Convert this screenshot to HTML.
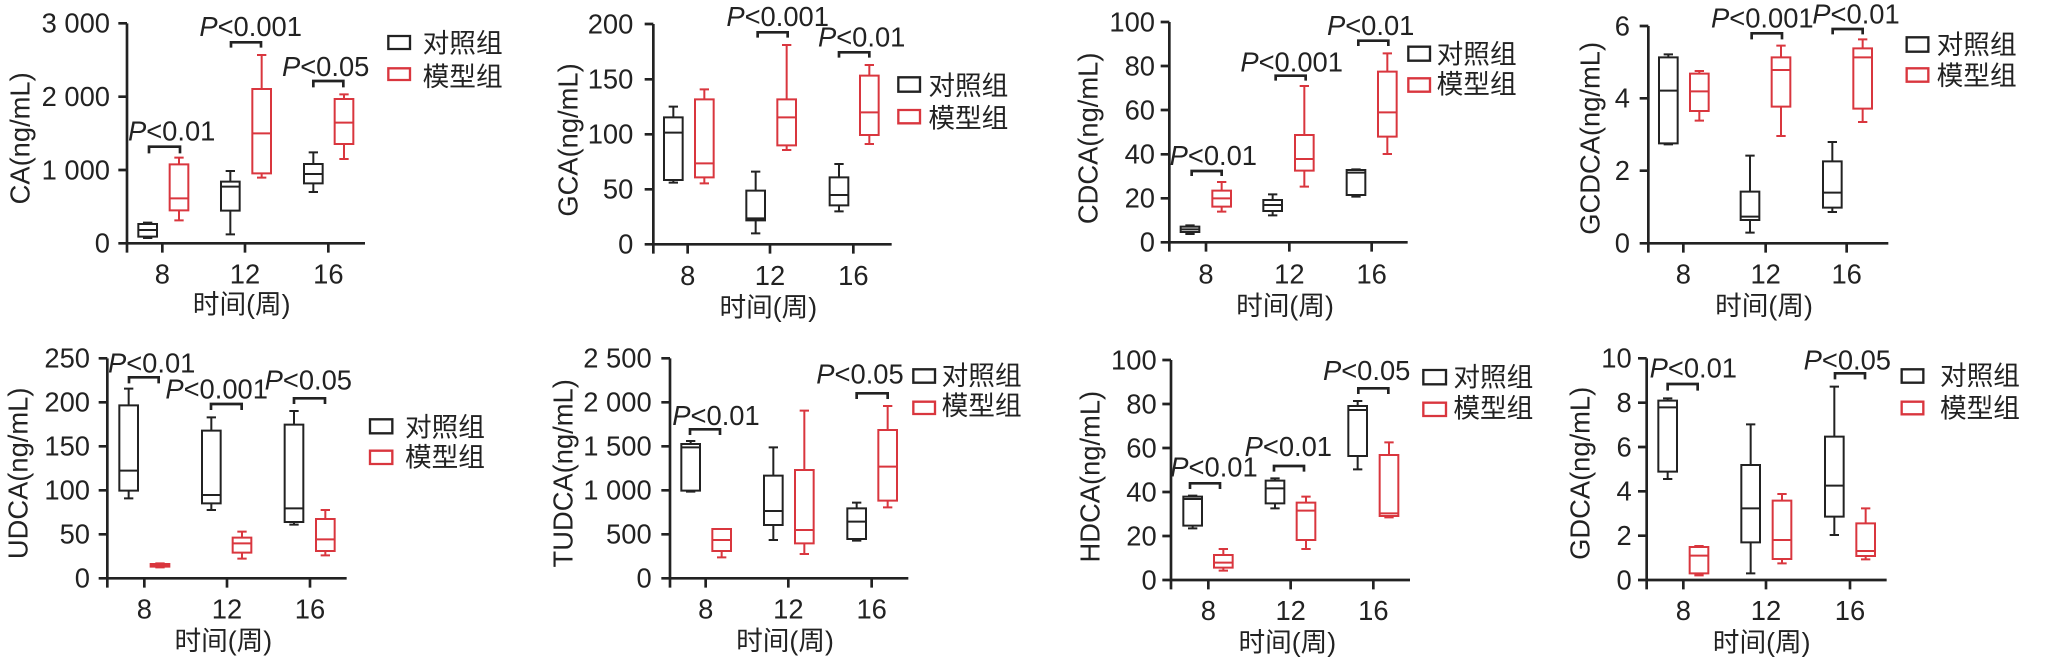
<!DOCTYPE html>
<html><head><meta charset="utf-8"><style>
html,body{margin:0;padding:0;background:#fff;}
svg{display:block}
text{font-family:"Liberation Sans","Noto Sans CJK SC",sans-serif;fill:#222;font-size:82px}
.e{text-anchor:end}.m{text-anchor:middle}
.cj{font-family:"Liberation Sans","Noto Sans CJK SC",sans-serif;font-size:80px}
</style></head><body>
<svg id="s" width="2053" height="659" viewBox="0 0 2053 659" xmlns="http://www.w3.org/2000/svg">
<!-- Panel 1 -->
<g id="p1" transform="translate(0,0) scale(0.33333)">
<text class="e" x="330" y="98">3 000</text><text class="e" x="330" y="318">2 000</text><text class="e" x="330" y="538">1 000</text><text class="e" x="330" y="758">0</text>
<text class="m" x="487" y="850">8</text><text class="m" x="735" y="850">12</text><text class="m" x="985" y="850">16</text>
<text class="m cj" x="725" y="940">时间(周)</text>
<text class="m" transform="translate(88,415) rotate(-90)">CA(ng/mL)</text>
<text class="m" x="515" y="422"><tspan font-style="italic">P</tspan>&lt;0.01</text>
<text class="m" x="752" y="108"><tspan font-style="italic">P</tspan>&lt;0.001</text>
<text class="m" x="977" y="228"><tspan font-style="italic">P</tspan>&lt;0.05</text>
<text class="cj" x="1268" y="158">对照组</text><text class="cj" x="1268" y="258">模型组</text>
</g>
<!-- Panel 2 -->
<g id="p2" transform="translate(520,0) scale(0.33333)">
<text class="e" x="340" y="100">200</text><text class="e" x="340" y="266">150</text><text class="e" x="340" y="431">100</text><text class="e" x="340" y="596">50</text><text class="e" x="340" y="761">0</text>
<text class="m" x="503" y="855">8</text><text class="m" x="750" y="855">12</text><text class="m" x="1000" y="855">16</text>
<text class="m cj" x="745" y="950">时间(周)</text>
<text class="m" transform="translate(172,420) rotate(-90)">GCA(ng/mL)</text>
<text class="m" x="773" y="78"><tspan font-style="italic">P</tspan>&lt;0.001</text>
<text class="m" x="1025" y="140"><tspan font-style="italic">P</tspan>&lt;0.01</text>
<text class="cj" x="1225" y="285">对照组</text><text class="cj" x="1225" y="383">模型组</text>
</g>
<!-- Panel 3 -->
<g id="p3" transform="translate(1040,0) scale(0.33333)">
<text class="e" x="345" y="94">100</text><text class="e" x="345" y="226">80</text><text class="e" x="345" y="358">60</text><text class="e" x="345" y="490">40</text><text class="e" x="345" y="622">20</text><text class="e" x="345" y="755">0</text>
<text class="m" x="498" y="850">8</text><text class="m" x="748" y="850">12</text><text class="m" x="995" y="850">16</text>
<text class="m cj" x="735" y="945">时间(周)</text>
<text class="m" transform="translate(172,415) rotate(-90)">CDCA(ng/mL)</text>
<text class="m" x="520" y="495"><tspan font-style="italic">P</tspan>&lt;0.01</text>
<text class="m" x="755" y="215"><tspan font-style="italic">P</tspan>&lt;0.001</text>
<text class="m" x="992" y="105"><tspan font-style="italic">P</tspan>&lt;0.01</text>
<text class="cj" x="1190" y="190">对照组</text><text class="cj" x="1190" y="280">模型组</text>
</g>
<!-- Panel 4 -->
<g id="p4" transform="translate(1540,0) scale(0.33333)">
<text class="e" x="270" y="106">6</text><text class="e" x="270" y="323">4</text><text class="e" x="270" y="540">2</text><text class="e" x="270" y="758">0</text>
<text class="m" x="430" y="850">8</text><text class="m" x="677" y="850">12</text><text class="m" x="920" y="850">16</text>
<text class="m cj" x="672" y="945">时间(周)</text>
<text class="m" transform="translate(178,415) rotate(-90)">GCDCA(ng/mL)</text>
<text class="m" x="667" y="83"><tspan font-style="italic">P</tspan>&lt;0.001</text>
<text class="m" x="948" y="70"><tspan font-style="italic">P</tspan>&lt;0.01</text>
<text class="cj" x="1190" y="162">对照组</text><text class="cj" x="1190" y="255">模型组</text>
</g>
<!-- Panel 5 -->
<g id="p5" transform="translate(0,330) scale(0.33333)">
<text class="e" x="270" y="113">250</text><text class="e" x="270" y="245">200</text><text class="e" x="270" y="377">150</text><text class="e" x="270" y="509">100</text><text class="e" x="270" y="641">50</text><text class="e" x="270" y="773">0</text>
<text class="m" x="433" y="865">8</text><text class="m" x="681" y="865">12</text><text class="m" x="930" y="865">16</text>
<text class="m cj" x="670" y="960">时间(周)</text>
<text class="m" transform="translate(82,430) rotate(-90)">UDCA(ng/mL)</text>
<text class="m" x="455" y="128"><tspan font-style="italic">P</tspan>&lt;0.01</text>
<text class="m" x="650" y="205"><tspan font-style="italic">P</tspan>&lt;0.001</text>
<text class="m" x="925" y="178"><tspan font-style="italic">P</tspan>&lt;0.05</text>
<text class="cj" x="1215" y="320">对照组</text><text class="cj" x="1215" y="410">模型组</text>
</g>
<!-- Panel 6 -->
<g id="p6" transform="translate(520,330) scale(0.33333)">
<text class="e" x="395" y="113">2 500</text><text class="e" x="395" y="245">2 000</text><text class="e" x="395" y="377">1 500</text><text class="e" x="395" y="509">1 000</text><text class="e" x="395" y="641">500</text><text class="e" x="395" y="773">0</text>
<text class="m" x="557" y="865">8</text><text class="m" x="805" y="865">12</text><text class="m" x="1055" y="865">16</text>
<text class="m cj" x="795" y="960">时间(周)</text>
<text class="m" transform="translate(158,430) rotate(-90)">TUDCA(ng/mL)</text>
<text class="m" x="588" y="285"><tspan font-style="italic">P</tspan>&lt;0.01</text>
<text class="m" x="1020" y="160"><tspan font-style="italic">P</tspan>&lt;0.05</text>
<text class="cj" x="1265" y="165">对照组</text><text class="cj" x="1265" y="255">模型组</text>
</g>
<!-- Panel 7 -->
<g id="p7" transform="translate(1040,330) scale(0.33333)">
<text class="e" x="350" y="118">100</text><text class="e" x="350" y="250">80</text><text class="e" x="350" y="382">60</text><text class="e" x="350" y="514">40</text><text class="e" x="350" y="646">20</text><text class="e" x="350" y="778">0</text>
<text class="m" x="505" y="870">8</text><text class="m" x="752" y="870">12</text><text class="m" x="1000" y="870">16</text>
<text class="m cj" x="742" y="965">时间(周)</text>
<text class="m" transform="translate(178,440) rotate(-90)">HDCA(ng/mL)</text>
<text class="m" x="522" y="440"><tspan font-style="italic">P</tspan>&lt;0.01</text>
<text class="m" x="745" y="378"><tspan font-style="italic">P</tspan>&lt;0.01</text>
<text class="m" x="980" y="150"><tspan font-style="italic">P</tspan>&lt;0.05</text>
<text class="cj" x="1240" y="170">对照组</text><text class="cj" x="1240" y="262">模型组</text>
</g>
<!-- Panel 8 -->
<g id="p8" transform="translate(1540,330) scale(0.33333)">
<text class="e" x="275" y="113">10</text><text class="e" x="275" y="246">8</text><text class="e" x="275" y="379">6</text><text class="e" x="275" y="512">4</text><text class="e" x="275" y="645">2</text><text class="e" x="275" y="778">0</text>
<text class="m" x="430" y="870">8</text><text class="m" x="678" y="870">12</text><text class="m" x="930" y="870">16</text>
<text class="m cj" x="665" y="965">时间(周)</text>
<text class="m" transform="translate(148,430) rotate(-90)">GDCA(ng/mL)</text>
<text class="m" x="460" y="142"><tspan font-style="italic">P</tspan>&lt;0.01</text>
<text class="m" x="922" y="118"><tspan font-style="italic">P</tspan>&lt;0.05</text>
<text class="cj" x="1200" y="165">对照组</text><text class="cj" x="1200" y="262">模型组</text>
</g>
</svg>
<script>
var K="#222",R="#d9363e",NS="http://www.w3.org/2000/svg";
function P(g,d,c,w){var p=document.createElementNS(NS,"path");p.setAttribute("d",d);p.setAttribute("stroke",c);p.setAttribute("stroke-width",w);p.setAttribute("fill","none");g.appendChild(p);}
var D=[
{id:"p1",ax:381,yt:70,y0:730,xe:1095,yts:[70,290,510,730],xt:[487,735,985],
 b:[[443,668,672,690,710,714,0],[537,473,493,595,631,661,1],[691,513,545,560,632,703,0],[785,165,267,400,520,533,1],[940,457,492,522,550,576,0],[1032,283,297,368,432,477,1]],
 s:[[447,540,440,460],[693,783,127,143],[940,1030,243,262]],lg:[1165,1230,108,147,205,240]},
{id:"p2",ax:400,yt:72,y0:733,xe:1115,yts:[72,238,403,568,733],xt:[503,750,1000],
 b:[[460,320,352,398,540,548,0],[553,268,298,490,532,550,1],[707,515,572,655,661,700,0],[800,135,298,352,436,450,1],[957,492,532,585,616,634,0],[1048,195,227,337,405,432,1]],
 s:[[713,803,97,113],[957,1048,157,173]],lg:[1135,1200,232,275,330,370]},
{id:"p3",ax:388,yt:66,y0:727,xe:1103,yts:[66,198,330,463,595,727],xt:[498,748,995],
 b:[[450,676,680,688,696,702,0],[545,546,572,595,620,635,1],[698,583,600,615,633,646,0],[793,258,405,477,512,560,1],[948,508,510,518,585,590,0],[1042,160,215,337,410,462,1]],
 s:[[455,545,513,528],[707,797,227,242],[955,1045,122,138]],lg:[1105,1170,140,182,235,275]},
{id:"p4",ax:325,yt:78,y0:730,xe:1045,yts:[78,295,512,730],xt:[430,677,920],
 b:[[385,163,172,272,430,433,0],[478,213,221,274,333,362,1],[630,467,575,650,660,698,0],[723,137,172,210,320,408,1],[877,426,484,578,623,636,0],[968,118,145,172,326,366,1]],
 s:[[635,726,100,118],[878,968,87,103]],lg:[1100,1165,112,155,205,245]},
{id:"p5",ax:322,yt:85,y0:745,xe:1040,yts:[85,217,349,481,613,745],xt:[433,681,930],
 b:[[386,176,226,422,482,505,0],[480,700,702,706,710,712,1],[634,262,302,495,520,540,0],[726,605,623,640,668,686,1],[882,243,284,535,576,584,0],[976,540,567,628,663,676,1]],
 s:[[387,476,142,160],[633,725,222,240],[882,975,205,222]],lg:[1110,1177,268,310,362,402]},
{id:"p6",ax:450,yt:85,y0:745,xe:1165,yts:[85,217,349,481,613,745],xt:[557,805,1055],
 b:[[512,333,342,352,482,485,0],[605,597,597,630,663,682,1],[760,352,437,543,585,630,0],[853,242,420,600,640,672,1],[1010,518,535,575,627,632,0],[1103,228,300,410,512,532,1]],
 s:[[510,600,298,315],[1010,1103,190,207]],lg:[1180,1245,118,158,215,252]},
{id:"p7",ax:393,yt:90,y0:750,xe:1110,yts:[90,222,354,486,618,750],xt:[505,752,1000],
 b:[[458,497,500,507,587,595,0],[550,657,675,698,713,722,1],[705,445,452,475,520,535,0],[798,500,518,542,630,657,1],[953,213,228,240,378,418,0],[1047,337,375,550,558,562,1]],
 s:[[450,540,460,477],[702,792,408,425],[955,1045,175,192]],lg:[1150,1218,120,163,218,258]},
{id:"p8",ax:320,yt:85,y0:750,xe:1040,yts:[85,218,351,484,617,750],xt:[430,678,930],
 b:[[383,205,212,232,425,447,0],[477,648,651,677,730,736,1],[632,283,405,535,637,730,0],[726,492,512,630,687,700,1],[883,170,320,467,560,615,0],[977,535,580,663,678,688,1]],
 s:[[383,473,162,182],[885,975,130,148]],lg:[1085,1150,118,158,215,253]}
];
D.forEach(function(p){
 var g=document.getElementById(p.id),d="M"+p.ax+","+p.yt+"V"+(p.y0+28)+"M"+p.ax+","+p.y0+"H"+p.xe;
 p.yts.forEach(function(y){d+="M"+(p.ax-26)+","+y+"h26";});
 p.xt.forEach(function(x){d+="M"+x+","+p.y0+"v28";});
 P(g,d,K,8);
 p.b.forEach(function(b){var c=b[0],e="M"+c+","+b[1]+"V"+b[2]+"M"+c+","+b[4]+"V"+b[5]+"M"+(c-14)+","+b[1]+"h28M"+(c-14)+","+b[5]+"h28M"+(c-28)+","+b[3]+"h56M"+(c-28)+","+b[2]+"h56V"+b[4]+"h-56Z";P(g,e,b[6]?R:K,6);});
 p.s.forEach(function(s){P(g,"M"+s[0]+","+s[3]+"V"+s[2]+"H"+s[1]+"V"+s[3],K,8);});
 var l=p.lg;P(g,"M"+l[0]+","+l[2]+"H"+l[1]+"V"+l[3]+"H"+l[0]+"Z",K,7);P(g,"M"+l[0]+","+l[4]+"H"+l[1]+"V"+l[5]+"H"+l[0]+"Z",R,7);
});
</script>
</body></html>
